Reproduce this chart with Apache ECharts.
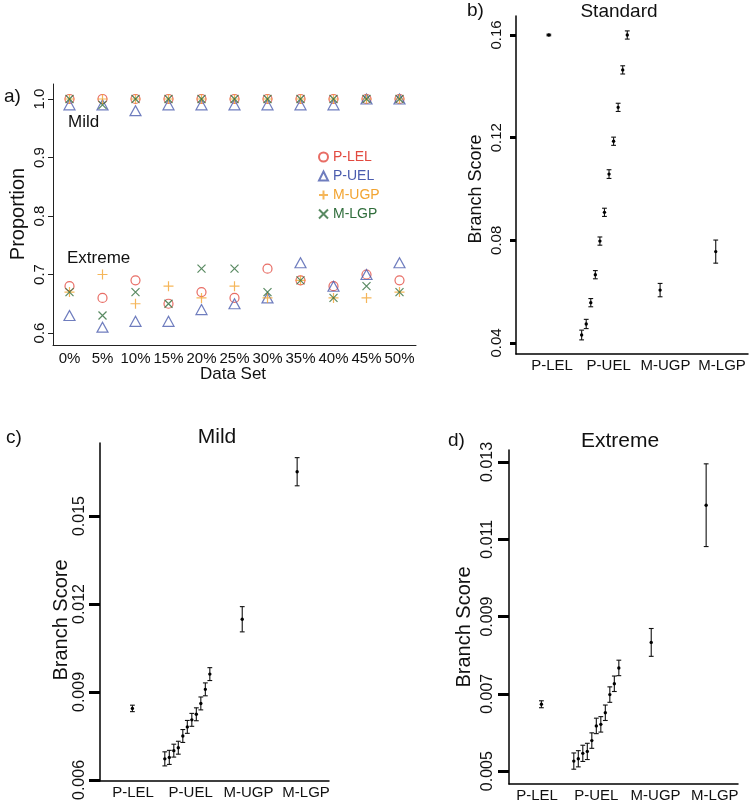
<!DOCTYPE html>
<html><head><meta charset="utf-8">
<script src="https://cdn.jsdelivr.net/npm/echarts@6/dist/echarts.min.js"></script>
<style>html,body{margin:0;padding:0;background:#fff}#chart{width:750px;height:803px}</style>
</head><body><div id="chart"></div>
<script>
// ---------- Panel a data ----------
const dataSets = ['0%','5%','10%','15%','20%','25%','30%','35%','40%','45%','50%'];
const mildPLEL = [1.00,1.00,1.00,1.00,1.00,1.00,1.00,1.00,1.00,1.00,1.00];
const mildPUEL = [0.99,0.99,0.98,0.99,0.99,0.99,0.99,0.99,0.99,1.00,1.00];
const mildMUGP = [1.00,1.00,1.00,1.00,1.00,1.00,1.00,1.00,1.00,1.00,1.00];
const mildMLGP = [1.00,0.99,1.00,1.00,1.00,1.00,1.00,1.00,1.00,1.00,1.00];
const extPLEL = [0.68,0.66,0.69,0.65,0.67,0.66,0.71,0.69,0.68,0.70,0.69];
const extPUEL = [0.63,0.61,0.62,0.62,0.64,0.65,0.66,0.72,0.68,0.70,0.72];
const extMUGP = [0.67,0.70,0.65,0.68,0.66,0.68,0.66,0.69,0.66,0.66,0.67];
const extMLGP = [0.67,0.63,0.67,0.65,0.71,0.71,0.67,0.69,0.66,0.68,0.67];
const propTicks = [0.6,0.7,0.8,0.9,1.0];

// ---------- Branch score data ----------
const branchCats = ['P-LEL','P-UEL','M-UGP','M-LGP'];
// Standard
const stdPLEL = 0.1600, stdPLELerr = 0.0003;
const stdPUEL = [0.0431,0.0474,0.0557,0.0666,0.0797,0.0909,0.1058,0.1186,0.1318,0.1464,0.1600];
const stdPUELerr = [0.0019,0.0018,0.0016,0.0016,0.0016,0.0016,0.0017,0.0016,0.0016,0.0016,0.0016];
const stdMUGP = 0.0606, stdMUGPerr = 0.0026;
const stdMLGP = 0.0756, stdMLGPerr = 0.0045;
const stdTicks = [0.04,0.08,0.12,0.16];
// Mild
const mildBPLEL = 0.00844, mildBPLELerr = 0.00011;
const mildBPUEL = [0.00672,0.00677,0.00700,0.00710,0.00750,0.00781,0.00805,0.00824,0.00861,0.00909,0.00961];
const mildBPUELerr = [0.00024,0.00024,0.00022,0.00022,0.00022,0.00022,0.00022,0.00022,0.00022,0.00022,0.00022];
const mildBMUGP = 0.01148, mildBMUGPerr = 0.00043;
const mildBMLGP = 0.01651, mildBMLGPerr = 0.00048;
const mildTicks = [0.006,0.009,0.012,0.015];
// Extreme
const extBPLEL = 0.00673, extBPLELerr = 0.00009;
const extBPUEL = [0.00526,0.00532,0.00546,0.00551,0.00579,0.00617,0.00621,0.00651,0.00698,0.00726,0.00767];
const extBPUELerr = [0.00021,0.00021,0.00021,0.00021,0.00020,0.00020,0.00020,0.00020,0.00020,0.00020,0.00020];
const extBMUGP = 0.00833, extBMUGPerr = 0.00036;
const extBMLGP = 0.01188, extBMLGPerr = 0.00107;
const extTicks = [0.005,0.007,0.009,0.011,0.013];

// ---------- styling ----------
const FONT = 'Liberation Sans, Arial, Helvetica, sans-serif';
const C_LEL = '#e2493f', C_UEL = '#4b5cae', C_UGP = '#f2a431', C_LGP = '#2f6d3b';
const PLUS = 'path://M5,0L5,10M0,5L10,5';
const CROSS = 'path://M0,0L10,10M0,10L10,0';

function pts(mild, ext){
  const out = [];
  dataSets.forEach((c,i)=>out.push([c, mild[i]]));
  dataSets.forEach((c,i)=>out.push([c, ext[i]]));
  return out;
}
const UEL_STEP = 0.082;
function errData(lel, lelE, uel, uelE, ugp, ugpE, lgp, lgpE){
  const d = [[1, lel, lel-lelE, lel+lelE]];
  uel.forEach((v,i)=>d.push([2 + (i-(uel.length-1)/2)*UEL_STEP, v, v-uelE[i], v+uelE[i]]));
  d.push([3, ugp, ugp-ugpE, ugp+ugpE]);
  d.push([4, lgp, lgp-lgpE, lgp+lgpE]);
  return d;
}
function renderErr(params, api){
  const x = api.value(0), y = api.value(1), lo = api.value(2), hi = api.value(3);
  const a = api.coord([x, lo]), b = api.coord([x, hi]), p = api.coord([x, y]);
  const cw = 2.4;
  const st = {stroke:'#111', lineWidth:1.1};
  return {type:'group', children:[
    {type:'line', shape:{x1:a[0],y1:a[1],x2:b[0],y2:b[1]}, style:st},
    {type:'line', shape:{x1:a[0]-cw,y1:a[1],x2:a[0]+cw,y2:a[1]}, style:st},
    {type:'line', shape:{x1:b[0]-cw,y1:b[1],x2:b[0]+cw,y2:b[1]}, style:st},
    {type:'circle', shape:{cx:p[0],cy:p[1],r:1.7}, style:{fill:'#000'}}
  ]};
}

function dataX(gi){
  return {type:'value', gridIndex:gi, min:0.41, max:4.58, show:false, position:'bottom'};
}
function labelX(gi, min, max){
  return {type:'value', gridIndex:gi, min:min, max:max, position:'bottom',
    axisLine:{show:true, onZero:false, lineStyle:{color:'#000', width:1.5}},
    axisTick:{show:false}, splitLine:{show:false},
    axisLabel:{customValues:[1,2,3,4], margin:4, fontFamily:FONT, fontSize:15, color:'#111',
      formatter:v=>branchCats[Math.round(v)-1] || ''}};
}
function branchY(gi, min, max, ticks, dec, tickLen, fs, margin){
  return {type:'value', gridIndex:gi, min:min, max:max,
    axisLine:{show:true, lineStyle:{color:'#000', width:1.5}},
    axisTick:{show:true, customValues:ticks, length:tickLen, lineStyle:{color:'#000', width:3}},
    splitLine:{show:false},
    axisLabel:{customValues:ticks, rotate:90, margin:margin, fontFamily:FONT, fontSize:fs, color:'#111',
      formatter:v=>v.toFixed(dec)}};
}
function txt(text, x, y, size, opts){
  opts = opts || {};
  return {type:'text', x:x, y:y, rotation:opts.rot||0, silent:true,
    style:{text:text, font:size+'px '+FONT, fill:opts.color||'#111',
      textAlign:opts.align||'center', textVerticalAlign:'middle'}};
}

const chart = echarts.init(document.getElementById('chart'), null, {renderer:'canvas'});
const option = {
  animation:false,
  backgroundColor:'#fff',
  grid:[
    {left:53, top:84, width:363, height:261},
    {left:516, top:16, width:232, height:338},
    {left:100, top:443, width:229, height:338},
    {left:509, top:450, width:229, height:337}
  ],
  xAxis:[
    {type:'category', gridIndex:0, data:dataSets, boundaryGap:true,
      axisLine:{lineStyle:{color:'#222', width:1}},
      axisTick:{alignWithLabel:true, length:5, lineStyle:{color:'#222'}},
      axisLabel:{margin:6, fontFamily:FONT, fontSize:15, color:'#111', interval:0}},
    dataX(1), labelX(1, 0.365, 4.457),
    dataX(2), labelX(2, 0.428, 4.397),
    dataX(3), labelX(3, 0.528, 4.39)
  ],
  yAxis:[
    {type:'value', gridIndex:0, min:0.5795, max:1.0256,
      axisLine:{show:true, lineStyle:{color:'#222', width:1}},
      axisTick:{show:true, customValues:propTicks, length:5, lineStyle:{color:'#222'}},
      splitLine:{show:false},
      axisLabel:{customValues:propTicks, rotate:90, margin:6, fontFamily:FONT, fontSize:15, color:'#111',
        formatter:v=>v.toFixed(1)}},
    branchY(1, 0.0357, 0.1674, stdTicks, 2, 6, 15, 12),
    branchY(2, 0.005966, 0.017489, mildTicks, 3, 11, 16, 12),
    branchY(3, 0.004667, 0.013308, extTicks, 3, 11, 16, 13)
  ],
  legend:{orient:'vertical', left:313, top:144, itemWidth:9, itemHeight:9, itemGap:3,
    textStyle:{fontFamily:FONT, fontSize:14, lineHeight:16},
    data:[
      {name:'P-LEL', textStyle:{color:C_LEL}},
      {name:'P-UEL', textStyle:{color:C_UEL}},
      {name:'M-UGP', textStyle:{color:C_UGP}},
      {name:'M-LGP', textStyle:{color:C_LGP}}
    ]},
  series:[
    {name:'P-LEL', type:'scatter', xAxisIndex:0, yAxisIndex:0, symbol:'circle', symbolSize:9,
      itemStyle:{color:'rgba(0,0,0,0)', borderColor:C_LEL, borderWidth:1.2}, data:pts(mildPLEL, extPLEL)},
    {name:'P-UEL', type:'scatter', xAxisIndex:0, yAxisIndex:0, symbol:'triangle', symbolSize:[11,10],
      itemStyle:{color:'rgba(0,0,0,0)', borderColor:C_UEL, borderWidth:1.2}, data:pts(mildPUEL, extPUEL)},
    {name:'M-UGP', type:'scatter', xAxisIndex:0, yAxisIndex:0, symbol:PLUS, symbolSize:10,
      itemStyle:{color:'rgba(0,0,0,0)', borderColor:C_UGP, borderWidth:1.2}, data:pts(mildMUGP, extMUGP)},
    {name:'M-LGP', type:'scatter', xAxisIndex:0, yAxisIndex:0, symbol:CROSS, symbolSize:8,
      itemStyle:{color:'rgba(0,0,0,0)', borderColor:C_LGP, borderWidth:1.2}, data:pts(mildMLGP, extMLGP)},
    {type:'custom', xAxisIndex:1, yAxisIndex:1, renderItem:renderErr, clip:false,
      data:errData(stdPLEL, stdPLELerr, stdPUEL, stdPUELerr, stdMUGP, stdMUGPerr, stdMLGP, stdMLGPerr)},
    {type:'custom', xAxisIndex:3, yAxisIndex:2, renderItem:renderErr, clip:false,
      data:errData(mildBPLEL, mildBPLELerr, mildBPUEL, mildBPUELerr, mildBMUGP, mildBMUGPerr, mildBMLGP, mildBMLGPerr)},
    {type:'custom', xAxisIndex:5, yAxisIndex:3, renderItem:renderErr, clip:false,
      data:errData(extBPLEL, extBPLELerr, extBPUEL, extBPUELerr, extBMUGP, extBMUGPerr, extBMLGP, extBMLGPerr)}
  ],
  graphic:[
    txt('a)', 4, 97, 19, {align:'left'}),
    txt('b)', 467, 11, 19, {align:'left'}),
    txt('c)', 6, 438, 19, {align:'left'}),
    txt('d)', 448, 441, 19, {align:'left'}),
    txt('Standard', 619, 12, 19),
    txt('Mild', 217, 437, 21),
    txt('Extreme', 620, 441, 21),
    txt('Mild', 68, 122, 17, {align:'left'}),
    txt('Extreme', 67, 258, 17, {align:'left'}),
    txt('Proportion', 18, 214, 20, {rot:Math.PI/2}),
    txt('Data Set', 233, 374, 17),
    txt('Branch Score', 476, 189, 18, {rot:Math.PI/2}),
    txt('Branch Score', 61, 620, 20, {rot:Math.PI/2}),
    txt('Branch Score', 464, 627, 20, {rot:Math.PI/2})
  ]
};
chart.setOption(option);
</script>
</body></html>
